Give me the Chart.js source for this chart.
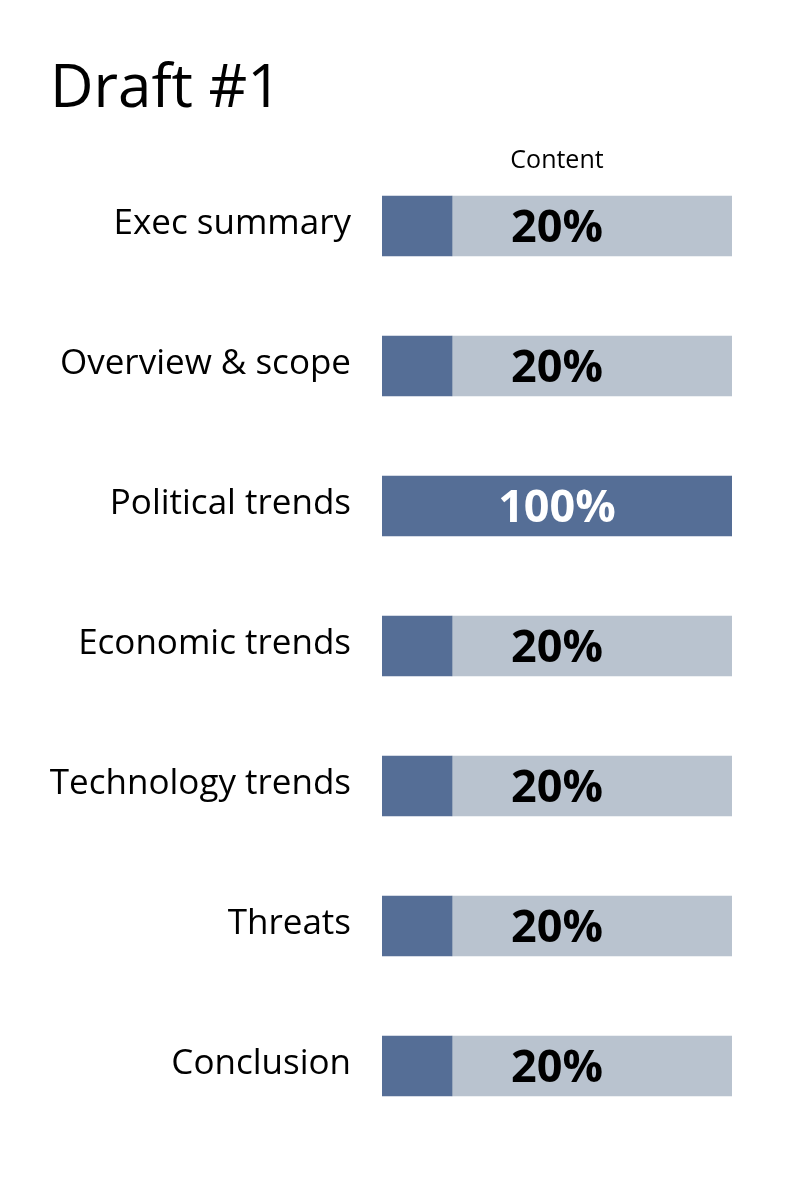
<!DOCTYPE html>
<html>
<head>
<meta charset="utf-8">
<script src="https://cdn.jsdelivr.net/npm/chart.js@4.4.1/dist/chart.umd.min.js"></script>
<style>
  html, body { margin: 0; padding: 0; background: #fff; }
  #wrap { width: 800px; height: 1200px; position: relative; }
</style>
</head>
<body>
<div id="wrap"><canvas id="myChart" width="800" height="1200"></canvas></div>
<script>
// données du graphique
var sections = ["Exec summary", "Overview & scope", "Political trends", "Economic trends",
  "Technology trends", "Threats", "Conclusion"];
var contentDone = [20, 20, 100, 20, 20, 20, 20];
var contentLeft = contentDone.map((v) => 100 - v);
var chartTitle = "Draft #1";
var columnTitle = "Content";

var darkBlue = "#556e96";
var lightGrey = "#b9c3cf";

// textes dessinés sur le canvas (titre, en-tête, pourcentages)
var textPlugin = {
  id: "texts",
  afterDatasetsDraw(chart) {
    let ctx = chart.ctx;
    let area = chart.chartArea;
    let cx = (area.left + area.right) / 2;
    ctx.save();
    ctx.fillStyle = "#000";
    ctx.textAlign = "left";
    ctx.textBaseline = "alphabetic";
    ctx.font = "60px 'Open Sans'";
    ctx.fillText(chartTitle, 50, 107);

    ctx.textAlign = "center";
    ctx.font = "25px 'Open Sans'";
    ctx.fillText(columnTitle, cx, 168);

    ctx.font = "bold 45px 'Open Sans'";
    chart.getDatasetMeta(0).data.forEach((bar, i) => {
      ctx.fillStyle = contentDone[i] >= 60 ? "#fff" : "#000";
      ctx.fillText(contentDone[i] + "%", cx, bar.y + 16);
    });
    ctx.restore();
  },
};

var ctx = document.getElementById("myChart").getContext("2d");
var chartInstance = new Chart(ctx, {
  type: "bar",
  data: {
    labels: sections,
    datasets: [
      { data: contentDone, backgroundColor: darkBlue, barThickness: 60, borderWidth: 0 },
      { data: contentLeft, backgroundColor: lightGrey, barThickness: 60, borderWidth: 0 },
    ],
  },
  options: {
    indexAxis: "y",
    responsive: false,
    animation: false,
    layout: { padding: { top: 156, bottom: 64, left: 0, right: 68 } },
    plugins: { legend: { display: false }, tooltip: { enabled: false } },
    scales: {
      x: { stacked: true, min: 0, max: 100, display: false },
      y: {
        stacked: true,
        grid: { display: false, drawTicks: false },
        border: { display: false },
        afterFit: (scale) => { scale.width = 382; },
        ticks: {
          padding: 31,
          labelOffset: -2,
          color: "#000",
          font: { family: "'Open Sans'", size: 35 },
        },
      },
    },
  },
  plugins: [textPlugin],
});
</script>
</body>
</html>
